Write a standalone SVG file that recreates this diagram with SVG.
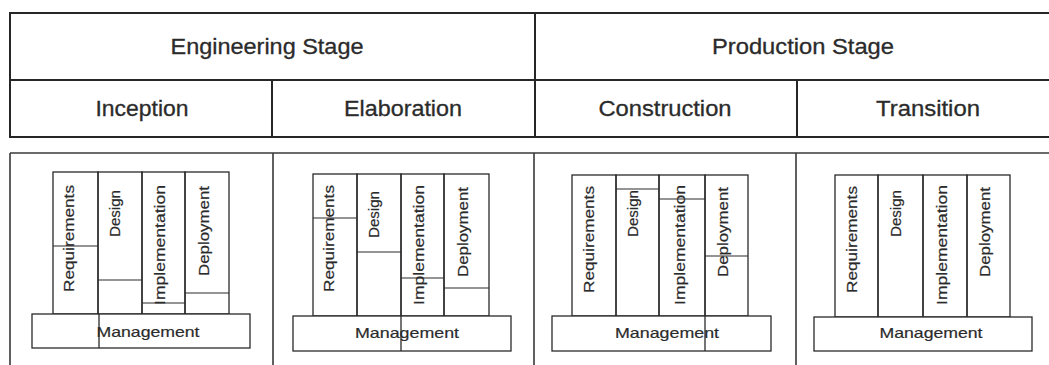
<svg xmlns="http://www.w3.org/2000/svg" width="1049" height="365" viewBox="0 0 1049 365">
<style>
.bg{fill:#ffffff}
.tbl{stroke:#262626;stroke-width:2;fill:none;stroke-linecap:square}
.frm{stroke:#3a3a3a;stroke-width:1.6;fill:none}
.col{stroke:#2a2a2a;stroke-width:1.3;fill:none}
.spl{stroke:#2a2a2a;stroke-width:1.2;fill:none}
.mg{stroke:#2a2a2a;stroke-width:1.3;fill:#ffffff}
.h{font-family:"Liberation Sans",Arial,sans-serif;font-size:22px;fill:#2b2b2b;text-anchor:middle;stroke:#2b2b2b;stroke-width:0.3}
.lb{font-family:"Liberation Sans",Arial,sans-serif;font-size:15px;fill:#2b2b2b;stroke:#2b2b2b;stroke-width:0.2}
.m{font-family:"Liberation Sans",Arial,sans-serif;font-size:15px;fill:#2b2b2b;text-anchor:middle;stroke:#2b2b2b;stroke-width:0.2}
</style>
<rect class="bg" x="0" y="0" width="1049" height="365"/>

<g id="header-table">
  <path class="tbl" d="M10,13 H1049 M10,80 H1049 M10,137 H1049 M10,13 V137 M535,13 V137 M272,80 V137 M797,80 V137"/>
  <text class="h" x="267" y="54" font-size="23" textLength="193" lengthAdjust="spacingAndGlyphs">Engineering Stage</text>
  <text class="h" x="803" y="54" font-size="23" textLength="182" lengthAdjust="spacingAndGlyphs">Production Stage</text>
  <text class="h" x="142" y="116" textLength="93" lengthAdjust="spacingAndGlyphs">Inception</text>
  <text class="h" x="403" y="116" textLength="118" lengthAdjust="spacingAndGlyphs">Elaboration</text>
  <text class="h" x="665" y="116" textLength="133" lengthAdjust="spacingAndGlyphs">Construction</text>
  <text class="h" x="928" y="116" textLength="104" lengthAdjust="spacingAndGlyphs">Transition</text>
</g>

<g id="panel-frame">
  <path class="frm" d="M10,153 H1049 M10,153 V365 M273,153 V365 M534,153 V365 M796,153 V365"/>
</g>

<g id="panel-inception">
  <rect class="col" x="53" y="172" width="45" height="142"/>
  <rect class="col" x="98" y="172" width="44" height="142"/>
  <rect class="col" x="142" y="172" width="43" height="142"/>
  <rect class="col" x="185" y="172" width="44" height="142"/>
  <path class="spl" d="M53,246 H98 M98,280 H142 M142,303 H185 M185,293 H229"/>
  <rect class="mg" x="32" y="314" width="218" height="34"/>
  <path class="col" d="M99,314 V348"/>
  <text class="lb" transform="translate(74,292) rotate(-90)" textLength="107" lengthAdjust="spacingAndGlyphs">Requirements</text>
  <text class="lb" transform="translate(120,237) rotate(-90)" textLength="47" lengthAdjust="spacingAndGlyphs">Design</text>
  <text class="lb" transform="translate(165,305) rotate(-90)" textLength="120" lengthAdjust="spacingAndGlyphs">Implementation</text>
  <text class="lb" transform="translate(209,276) rotate(-90)" textLength="90" lengthAdjust="spacingAndGlyphs">Deployment</text>
  <text class="m" x="148" y="337" textLength="103" lengthAdjust="spacingAndGlyphs">Management</text>
</g>

<g id="panel-elaboration">
  <rect class="col" x="313" y="174" width="44" height="142"/>
  <rect class="col" x="357" y="174" width="44" height="142"/>
  <rect class="col" x="401" y="174" width="43" height="142"/>
  <rect class="col" x="444" y="174" width="45" height="142"/>
  <path class="spl" d="M313,218 H357 M357,252 H401 M401,278 H444 M444,288 H489"/>
  <rect class="mg" x="293" y="316" width="218" height="35"/>
  <path class="col" d="M401,316 V351"/>
  <text class="lb" transform="translate(334,292) rotate(-90)" textLength="107" lengthAdjust="spacingAndGlyphs">Requirements</text>
  <text class="lb" transform="translate(379,238) rotate(-90)" textLength="47" lengthAdjust="spacingAndGlyphs">Design</text>
  <text class="lb" transform="translate(424,305) rotate(-90)" textLength="120" lengthAdjust="spacingAndGlyphs">Implementation</text>
  <text class="lb" transform="translate(468,277) rotate(-90)" textLength="90" lengthAdjust="spacingAndGlyphs">Deployment</text>
  <text class="m" x="407" y="338" textLength="104" lengthAdjust="spacingAndGlyphs">Management</text>
</g>

<g id="panel-construction">
  <rect class="col" x="572" y="175" width="44" height="141"/>
  <rect class="col" x="616" y="175" width="43" height="141"/>
  <rect class="col" x="659" y="175" width="46" height="141"/>
  <rect class="col" x="705" y="175" width="43" height="141"/>
  <path class="spl" d="M616,189 H659 M659,199 H705 M705,256 H748"/>
  <rect class="mg" x="552" y="316" width="219" height="35"/>
  <path class="col" d="M705,316 V351"/>
  <text class="lb" transform="translate(594,293) rotate(-90)" textLength="107" lengthAdjust="spacingAndGlyphs">Requirements</text>
  <text class="lb" transform="translate(638,237) rotate(-90)" textLength="47" lengthAdjust="spacingAndGlyphs">Design</text>
  <text class="lb" transform="translate(685,305) rotate(-90)" textLength="120" lengthAdjust="spacingAndGlyphs">Implementation</text>
  <text class="lb" transform="translate(728,277) rotate(-90)" textLength="90" lengthAdjust="spacingAndGlyphs">Deployment</text>
  <text class="m" x="667" y="338" textLength="104" lengthAdjust="spacingAndGlyphs">Management</text>
</g>

<g id="panel-transition">
  <rect class="col" x="835" y="175" width="43" height="142"/>
  <rect class="col" x="878" y="175" width="45" height="142"/>
  <rect class="col" x="923" y="175" width="44" height="142"/>
  <rect class="col" x="967" y="175" width="43" height="142"/>
  <rect class="mg" x="814" y="317" width="218" height="34"/>
  <text class="lb" transform="translate(857,293) rotate(-90)" textLength="107" lengthAdjust="spacingAndGlyphs">Requirements</text>
  <text class="lb" transform="translate(901,237) rotate(-90)" textLength="47" lengthAdjust="spacingAndGlyphs">Design</text>
  <text class="lb" transform="translate(947,305) rotate(-90)" textLength="120" lengthAdjust="spacingAndGlyphs">Implementation</text>
  <text class="lb" transform="translate(990,277) rotate(-90)" textLength="90" lengthAdjust="spacingAndGlyphs">Deployment</text>
  <text class="m" x="931" y="338" textLength="103" lengthAdjust="spacingAndGlyphs">Management</text>
</g>
</svg>
